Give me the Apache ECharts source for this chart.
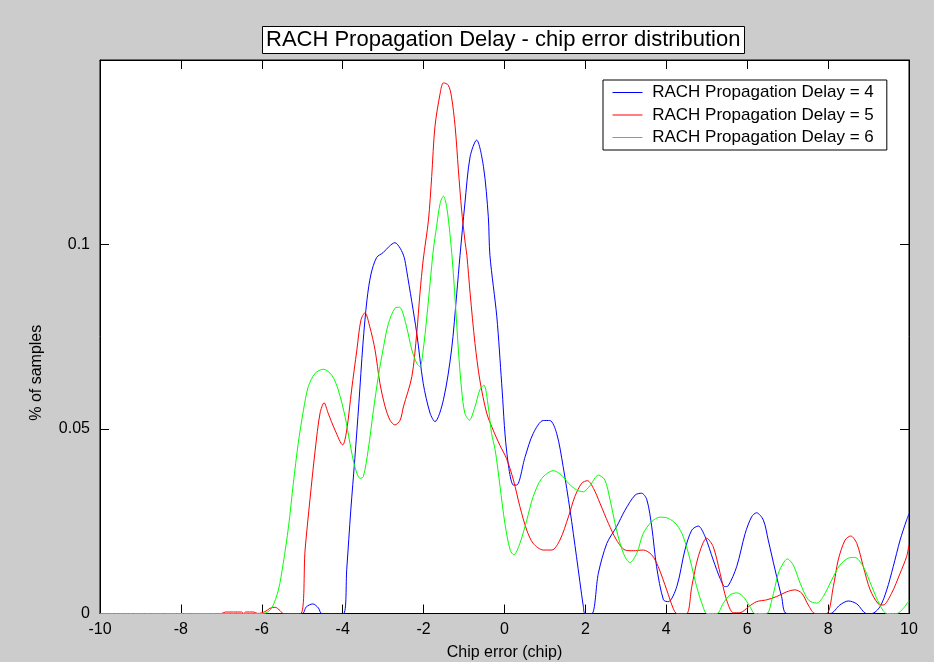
<!DOCTYPE html>
<html>
<head>
<meta charset="utf-8">
<script src="https://cdn.jsdelivr.net/npm/echarts@6/dist/echarts.min.js"></script>
<style>
html,body{margin:0;padding:0;background:#cccccc;}
#chart{width:934px;height:662px;}
</style>
</head>
<body>
<div id="chart"></div>
<script>
const titleText = 'RACH Propagation Delay - chip error distribution';
const xName = 'Chip error (chip)';
const yName = '% of samples';
const seriesNames = ['RACH Propagation Delay = 4', 'RACH Propagation Delay = 5', 'RACH Propagation Delay = 6'];
const seriesColors = ['#0000ff', '#ff0000', '#00ff00'];
const xTicks = { min: -10, max: 10, step: 2 };
const yTicks = { min: 0, max: 0.15, step: 0.05 };

const delay4 = [
  [-10,0],[-5.0,0],[-4.9,0.0018],[-4.74,0.0026],[-4.6,0.0015],[-4.52,0],[-3.98,0],
  [-3.9,0.012],[-3.8,0.028],[-3.7,0.042],[-3.6,0.057],[-3.5,0.073],[-3.4,0.085],[-3.3,0.092],
  [-3.16,0.0965],[-3.0,0.0978],[-2.85,0.0995],[-2.71,0.1005],[-2.58,0.099],[-2.48,0.0965],
  [-2.42,0.093],[-2.17,0.076],[-2.01,0.0624],[-1.84,0.0543],[-1.72,0.052],[-1.51,0.0579],
  [-1.31,0.0714],[-1.18,0.0868],[-1.10,0.097],[-0.98,0.111],[-0.85,0.1238],[-0.69,0.1283],
  [-0.52,0.1211],[-0.40,0.1075],[-0.36,0.097],[-0.19,0.0804],[-0.07,0.0624],[0.05,0.0443],
  [0.22,0.0348],[0.30,0.0348],[0.51,0.0425],[0.71,0.0488],[0.96,0.0523],[1.12,0.0523],
  [1.29,0.0488],[1.45,0.0398],[1.62,0.028],[1.78,0.0154],[1.95,0.0018],[1.99,0],[2.16,0],
  [2.32,0.0109],[2.53,0.019],[2.77,0.0235],[2.98,0.028],[3.23,0.0321],[3.39,0.0326],
  [3.52,0.0308],[3.64,0.0235],[3.76,0.0127],[3.93,0.0037],[4.05,0.0032],[4.26,0.0073],
  [4.46,0.0172],[4.63,0.0226],[4.79,0.0237],[4.96,0.0208],[5.16,0.0145],[5.33,0.0095],
  [5.45,0.0073],[5.53,0.0075],[5.74,0.0127],[5.95,0.0217],[6.11,0.0262],[6.23,0.0273],
  [6.40,0.0253],[6.52,0.0199],[6.69,0.0118],[6.85,0.0046],[6.98,0],[8.05,0],[8.29,0.0023],
  [8.50,0.0034],[8.71,0.0026],[8.95,0],[9.08,0],[9.28,0.0018],[9.45,0.0064],[9.61,0.0127],
  [9.78,0.0199],[9.94,0.0253],[10,0.027]
];

const delay5 = [
  [-10,0],[-7.0,0],[-6.9,0.0004],[-6.5,0.0004],[-6.45,0],[-6.4,0.0004],[-6.2,0.0004],[-6.1,0],
  [-5.92,0.0005],[-5.8,0.0014],[-5.67,0.0017],[-5.55,0.0008],[-5.47,0],[-5.04,0],
  [-4.93,0.0172],[-4.81,0.0308],[-4.68,0.0443],[-4.56,0.0543],[-4.46,0.0571],[-4.36,0.0543],
  [-4.19,0.0497],[-4.0,0.0457],[-3.90,0.0497],[-3.78,0.0606],[-3.65,0.0714],[-3.55,0.0795],
  [-3.45,0.0815],[-3.33,0.0777],[-3.20,0.0714],[-3.08,0.0624],[-2.95,0.056],[-2.83,0.0524],
  [-2.71,0.0511],[-2.58,0.0524],[-2.50,0.056],[-2.29,0.0642],[-2.17,0.0759],[-2.09,0.0868],
  [-2.01,0.0958],[-1.88,0.1066],[-1.80,0.1184],[-1.72,0.1319],[-1.59,0.141],[-1.51,0.1438],
  [-1.39,0.1432],[-1.31,0.14],[-1.22,0.1319],[-1.14,0.1202],[-1.06,0.1093],[-0.98,0.1012],
  [-0.93,0.097],[-0.85,0.0868],[-0.73,0.0732],[-0.61,0.0633],[-0.44,0.0543],[-0.28,0.0497],
  [-0.11,0.0455],[0.05,0.042],[0.22,0.0362],[0.38,0.029],[0.55,0.0226],[0.71,0.019],
  [0.96,0.0172],[1.17,0.0172],[1.37,0.0199],[1.58,0.0262],[1.74,0.0317],[1.91,0.0353],
  [2.05,0.036],[2.20,0.0339],[2.36,0.0299],[2.57,0.0244],[2.77,0.0199],[2.98,0.0172],
  [3.18,0.017],[3.43,0.0172],[3.64,0.0159],[3.80,0.0127],[4.01,0.0064],[4.17,0.0014],
  [4.26,0],[4.5,0],[4.63,0.0073],[4.79,0.0154],[5.0,0.0204],[5.16,0.0181],[5.33,0.0109],
  [5.49,0.0037],[5.66,0.0002],[5.82,0.0002],[6.03,0.0018],[6.23,0.0032],[6.48,0.0037],
  [6.73,0.0046],[6.98,0.0059],[7.18,0.0064],[7.35,0.0055],[7.51,0.0023],[7.68,0],[7.96,0],
  [8.13,0.0073],[8.25,0.0145],[8.42,0.0199],[8.56,0.021],[8.71,0.019],[8.87,0.0127],
  [9.04,0.0064],[9.24,0.0026],[9.36,0.0023],[9.57,0.0055],[9.78,0.0109],[9.94,0.0154],
  [10,0.0186]
];

const delay6 = [
  [-10,0],[-5.96,0],[-5.76,0.0014],[-5.59,0.0064],[-5.47,0.0136],[-5.34,0.0235],[-5.22,0.0353],
  [-5.10,0.0461],[-4.97,0.0551],[-4.85,0.0615],[-4.68,0.0651],[-4.48,0.0662],[-4.27,0.0646],
  [-4.11,0.0606],[-3.94,0.0533],[-3.82,0.0461],[-3.70,0.0398],[-3.57,0.0366],[-3.49,0.0371],
  [-3.37,0.0443],[-3.24,0.0551],[-3.12,0.0642],[-2.99,0.0723],[-2.87,0.0786],[-2.71,0.0827],
  [-2.6,0.083],[-2.54,0.0823],[-2.42,0.0777],[-2.29,0.0714],[-2.17,0.0678],[-2.09,0.0669],
  [-2.01,0.0714],[-1.92,0.0804],[-1.84,0.0895],[-1.76,0.0985],[-1.68,0.1048],[-1.59,0.1112],
  [-1.51,0.1131],[-1.43,0.1102],[-1.35,0.103],[-1.29,0.0958],[-1.22,0.085],[-1.14,0.0714],
  [-1.06,0.0606],[-0.98,0.0543],[-0.87,0.0524],[-0.73,0.056],[-0.61,0.0606],[-0.51,0.0619],
  [-0.40,0.056],[-0.32,0.0488],[-0.23,0.0443],[-0.11,0.0344],[0.01,0.0244],[0.14,0.0172],
  [0.23,0.0159],[0.38,0.019],[0.55,0.0253],[0.71,0.0317],[0.92,0.0366],[1.21,0.0387],
  [1.41,0.0375],[1.58,0.0353],[1.78,0.0335],[1.95,0.033],[2.11,0.0346],[2.32,0.0375],
  [2.48,0.0362],[2.61,0.0308],[2.77,0.0226],[2.94,0.0163],[3.10,0.0138],[3.27,0.0163],
  [3.43,0.0217],[3.64,0.0249],[3.84,0.0261],[4.05,0.0258],[4.26,0.024],[4.42,0.0208],
  [4.59,0.0145],[4.75,0.0073],[4.91,0.0018],[5.0,0],[5.25,0],[5.41,0.0028],[5.57,0.005],
  [5.74,0.0056],[5.90,0.0046],[6.07,0.0018],[6.19,0],[6.48,0],[6.61,0.0037],[6.77,0.0109],
  [6.89,0.0136],[6.99,0.0148],[7.14,0.0131],[7.31,0.0082],[7.51,0.0037],[7.72,0.0028],
  [7.88,0.0046],[8.09,0.0091],[8.29,0.0131],[8.50,0.015],[8.66,0.0152],[8.87,0.0127],
  [9.08,0.0073],[9.28,0.0023],[9.45,0],[9.7,0],[9.86,0.0014],[10,0.0035]
];

const allData = [delay4, delay5, delay6];
const FONT = 'Liberation Sans, Arial, sans-serif';

const chart = echarts.init(document.getElementById('chart'), null, {renderer: 'canvas'});

const tickStyle = { show: true, inside: true, length: 9, lineStyle: { color: '#000', width: 1 } };
const axisLine = { show: true, onZero: false, lineStyle: { color: '#000', width: 1 } };

function yFmt(v) {
  if (v > 0.12) return '';
  return String(+v.toFixed(2));
}

const option = {
  backgroundColor: '#cccccc',
  animation: false,
  title: {
    text: titleText,
    left: 262,
    top: 26,
    padding: [3, 4, 3, 4],
    backgroundColor: '#ffffff',
    borderColor: '#000000',
    borderWidth: 1,
    textStyle: { fontFamily: FONT, fontSize: 22, fontWeight: 'normal', color: '#000' }
  },
  legend: {
    data: seriesNames,
    orient: 'vertical',
    left: 603,
    top: 80,
    padding: [4, 13, 4, 9],
    itemGap: 5.5,
    itemWidth: 30,
    itemHeight: 2,
    itemStyle: { opacity: 0 },
    lineStyle: { width: 1, opacity: 1 },
    backgroundColor: '#ffffff',
    borderColor: '#000000',
    borderWidth: 1,
    formatter: function (name) { return ' ' + name; },
    textStyle: { fontFamily: FONT, fontSize: 17, color: '#000' }
  },
  grid: {
    left: 100, right: 25, top: 60, bottom: 48.5,
    outerBoundsMode: 'none',
    containLabel: false,
    show: true, backgroundColor: '#ffffff', borderColor: '#000', borderWidth: 1
  },
  xAxis: [
    {
      type: 'value', min: xTicks.min, max: xTicks.max, interval: xTicks.step,
      position: 'bottom',
      name: xName, nameLocation: 'middle', nameGap: 31,
      nameTextStyle: { fontFamily: FONT, fontSize: 16, color: '#000' },
      axisLine: axisLine, axisTick: tickStyle, splitLine: { show: false },
      axisLabel: { fontFamily: FONT, fontSize: 16, color: '#000', margin: 8 }
    },
    {
      type: 'value', min: xTicks.min, max: xTicks.max, interval: xTicks.step,
      position: 'top',
      axisLine: axisLine, axisTick: tickStyle, splitLine: { show: false },
      axisLabel: { show: false }
    }
  ],
  yAxis: [
    {
      type: 'value', min: yTicks.min, max: yTicks.max, interval: yTicks.step,
      position: 'left',
      name: yName, nameLocation: 'middle', nameGap: 55,
      nameTextStyle: { fontFamily: FONT, fontSize: 16, color: '#000', padding: [0, 72, 0, 0] },
      axisLine: axisLine, axisTick: tickStyle, splitLine: { show: false },
      axisLabel: { fontFamily: FONT, fontSize: 16, color: '#000', margin: 10, formatter: yFmt }
    },
    {
      type: 'value', min: yTicks.min, max: yTicks.max, interval: yTicks.step,
      position: 'right',
      axisLine: axisLine, axisTick: tickStyle, splitLine: { show: false },
      axisLabel: { show: false }
    }
  ],
  series: seriesNames.map(function (name, i) {
    return {
      name: name,
      type: 'line',
      xAxisIndex: 0,
      yAxisIndex: 0,
      data: allData[i],
      symbol: 'none',
      smooth: 0.3,
      clip: true,
      color: seriesColors[i],
      lineStyle: { color: seriesColors[i], width: 1 },
      emphasis: { disabled: true }
    };
  })
};

chart.setOption(option);
</script>
</body>
</html>
